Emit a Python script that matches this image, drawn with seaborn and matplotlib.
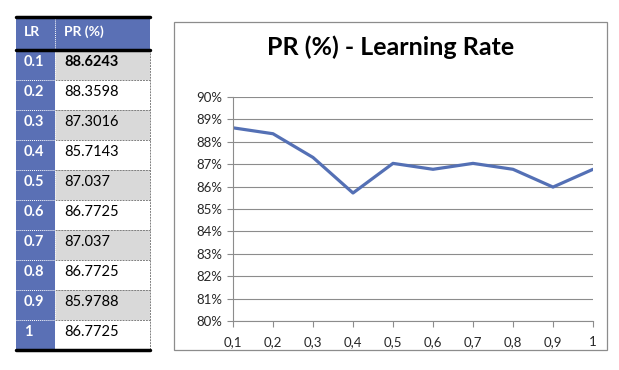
import matplotlib
matplotlib.use("Agg")
import matplotlib.pyplot as plt
import seaborn as sns
import pandas as pd
from matplotlib.patches import Rectangle

# data
lr_values = [0.1, 0.2, 0.3, 0.4, 0.5, 0.6, 0.7, 0.8, 0.9, 1.0]
lr_labels = ["0.1", "0.2", "0.3", "0.4", "0.5", "0.6", "0.7", "0.8", "0.9", "1"]
pr_values = [88.6243, 88.3598, 87.3016, 85.7143, 87.037, 86.7725, 87.037, 86.7725, 85.9788, 86.7725]
pr_labels = ["88.6243", "88.3598", "87.3016", "85.7143", "87.037", "86.7725", "87.037", "86.7725", "85.9788", "86.7725"]
x_tick_labels = ["0,1", "0,2", "0,3", "0,4", "0,5", "0,6", "0,7", "0,8", "0,9", "1"]
y_ticks = [80, 81, 82, 83, 84, 85, 86, 87, 88, 89, 90]

sns.set_theme(style="white")
plt.rcParams['font.family'] = ['Lato', 'DejaVu Sans']

W, H = 619, 370
fig = plt.figure(figsize=(W / 100, H / 100), dpi=100)
fig.patch.set_facecolor("white")

blue = "#5A70B5"
line_blue = "#5470B5"

# ---- table on the left (pixel coordinates) ----
tab = fig.add_axes([0, 0, 1, 1])
tab.set_xlim(0, W)
tab.set_ylim(H, 0)
tab.axis("off")

x0, x1, x2 = 16, 55, 150
top, head_bot = 17, 50
row_h = 30
for i, (lr, pr) in enumerate(zip(lr_labels, pr_labels)):
    y = head_bot + i * row_h
    tab.add_patch(Rectangle((x0, y), x1 - x0, row_h, color=blue, lw=0))
    tab.add_patch(Rectangle((x1, y), x2 - x1, row_h,
                            color="#D9D9D9" if i % 2 == 0 else "white", lw=0))
    tab.text(x0 + 8, y + 12, lr, color="white", fontsize=10.5, fontweight="bold", va="center")
    tab.text(x1 + 9, y + 12, pr, color="black", fontsize=10.5,
             fontweight="bold" if i == 0 else "normal", va="center")
    if i > 0:
        tab.plot([x0, x1], [y, y], color="white", lw=0.7, ls=(0, (1, 1)))
        tab.plot([x1, x2], [y, y], color="#7F7F7F", lw=0.7, ls=(0, (2, 1)))
tab.add_patch(Rectangle((x0, top), x2 - x0, head_bot - top, color=blue, lw=0))
tab.text(x0 + 8, 32, "LR", color="white", fontsize=10, fontweight="bold", va="center")
tab.text(x1 + 9, 32, "PR (%)", color="white", fontsize=10, fontweight="bold", va="center")
bottom = head_bot + 10 * row_h
tab.plot([x1, x1], [top, bottom], color="white", lw=0.7, ls=(0, (1, 1)))
tab.plot([x2, x2], [head_bot, bottom], color="#7F7F7F", lw=0.7, ls=(0, (2, 1)))
tab.plot([x0, x2], [top, top], color="black", lw=2.5)
tab.plot([x0, x2], [head_bot, head_bot], color="black", lw=2.5)
tab.plot([x0, x2], [bottom, bottom], color="black", lw=2.5)

# chart frame
tab.add_patch(Rectangle((174, 22), 607 - 174, 350 - 22, fill=False, ec="#8C8C8C", lw=0.9))
tab.text(391, 47, "PR (%) - Learning Rate", fontsize=18, fontweight="bold",
         ha="center", va="center", color="black")

# ---- line chart ----
ax = fig.add_axes([233 / W, 1 - 321 / H, 360 / W, 224 / H])
df = pd.DataFrame({"lr": lr_values, "pr": pr_values})
sns.lineplot(data=df, x="lr", y="pr", ax=ax, color=line_blue, linewidth=2.3)
ax.set_xlim(lr_values[0], lr_values[-1])
ax.set_ylim(y_ticks[0], y_ticks[-1])
ax.set_yticks(y_ticks)
ax.set_yticklabels([f"{t}%" for t in y_ticks])
ax.set_xticks(lr_values)
ax.set_xticklabels(x_tick_labels)
ax.set_xlabel("")
ax.set_ylabel("")
ax.grid(axis="y", color="#8C8C8C", lw=0.8)
ax.set_axisbelow(True)
for s in ["top", "right"]:
    ax.spines[s].set_visible(False)
for s in ["left", "bottom"]:
    ax.spines[s].set_color("#8C8C8C")
    ax.spines[s].set_linewidth(0.8)
ax.tick_params(axis="both", which="major", length=4, width=0.8, color="#8C8C8C",
               direction="out", labelsize=9.5, pad=4)
ax.tick_params(axis="y", left=True)
ax.tick_params(axis="x", bottom=True, pad=7)

fig.savefig("out.png", dpi=100, facecolor="white")
